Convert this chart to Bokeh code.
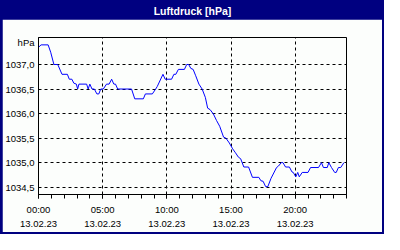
from bokeh.plotting import figure
from bokeh.layouts import column
from bokeh.models import Range1d, FixedTicker, CustomJSTickFormatter
from bokeh.core.properties import value
from bokeh.embed import file_html
from bokeh.resources import INLINE

# data: hours since 13.02.23 00:00, air pressure in hPa
hours = [0.0, 0.2, 0.75, 0.95, 1.2, 1.5, 1.83, 2.25, 2.4, 2.6, 2.75, 2.95, 3.05, 3.15, 3.75,
         3.87, 4.0, 4.17, 4.35, 4.55, 4.7, 4.85, 5.05, 5.3, 5.5, 5.7, 5.87, 6.0, 6.17, 7.25,
         7.5, 8.17, 8.33, 8.87, 9.13, 9.25, 9.7, 9.87, 10.37, 10.55, 10.7, 10.9, 11.37, 11.55,
         11.7, 11.87, 12.05, 12.25, 12.5, 12.75, 13.0, 13.18, 13.37, 13.63, 13.87, 14.12, 14.42,
         14.6, 14.87, 15.13, 15.35, 15.58, 15.75, 16.0, 16.37, 16.67, 17.17, 17.33, 17.5, 17.7,
         17.87, 18.12, 18.55, 18.7, 18.92, 19.05, 19.25, 19.55, 19.75, 19.85, 20.05, 20.2, 20.32,
         20.55, 21.0, 21.2, 21.82, 22.05, 22.2, 22.5, 22.62, 22.83, 23.08, 23.2, 23.37, 23.55, 23.8]
pressure = [1037.35, 1037.4, 1037.4, 1037.25, 1037.0, 1037.0, 1036.8, 1036.8, 1036.7, 1036.7,
            1036.62, 1036.6, 1036.5, 1036.6, 1036.6, 1036.5, 1036.6, 1036.5, 1036.5, 1036.4,
            1036.4, 1036.5, 1036.5, 1036.6, 1036.6, 1036.7, 1036.6, 1036.6, 1036.5, 1036.5,
            1036.3, 1036.3, 1036.4, 1036.4, 1036.5, 1036.55, 1036.8, 1036.7, 1036.7, 1036.8,
            1036.8, 1036.9, 1036.9, 1037.0, 1037.0, 1036.92, 1036.9, 1036.77, 1036.6, 1036.5,
            1036.33, 1036.11, 1036.08, 1035.99, 1035.86, 1035.74, 1035.52, 1035.5, 1035.4,
            1035.28, 1035.2, 1035.11, 1035.08, 1034.91, 1034.91, 1034.7, 1034.7, 1034.63,
            1034.62, 1034.51, 1034.51, 1034.68, 1034.9, 1034.93, 1035.0, 1035.0, 1034.91,
            1034.91, 1034.81, 1034.8, 1034.71, 1034.8, 1034.71, 1034.8, 1034.8, 1034.9, 1034.9,
            1035.0, 1034.9, 1034.9, 1035.0, 1034.9, 1034.8, 1034.8, 1034.9, 1034.9, 1035.0]
x_ticks = [0, 5, 10, 15, 20]
x_minor = list(range(0, 25))
y_ticks = [1034.5, 1035.0, 1035.5, 1036.0, 1036.5, 1037.0]
unit_tick = 1037.44          # where the unit label "hPa" sits on the value axis
date_label = "13.02.23"
title_text = "Luftdruck [hPa]"
unit_text = "hPa"

NAVY = "#000080"
BG = "#FCFEFC"
FONT = "Liberation Sans"

# title bar
t = figure(width=384, height=19, output_backend="svg", toolbar_location=None,
           x_range=Range1d(0, 1), y_range=Range1d(0, 1),
           x_axis_location=None, y_axis_location=None,
           min_border=0, background_fill_color=NAVY, border_fill_color=NAVY,
           outline_line_color=None)
t.grid.visible = False
t.text(x=[0.5], y=[0.45], text=[title_text], text_align="center", text_baseline="middle",
       text_font=value(FONT), text_font_style="bold", text_font_size="10.5px",
       text_color="white")

# main chart
p = figure(width=380, height=213, output_backend="svg", toolbar_location=None,
           x_range=Range1d(0, 24), y_range=Range1d(1034.35, 1037.55),
           min_border_left=36, min_border_right=36, min_border_top=18, min_border_bottom=34,
           background_fill_color=BG, border_fill_color=BG,
           outline_line_color="black", outline_line_width=1)
p.margin = (0, 2, 2, 2)

p.line(hours, pressure, line_color="#0000FF", line_width=1)

p.xaxis.ticker = FixedTicker(ticks=x_ticks, minor_ticks=x_minor)
p.xaxis.formatter = CustomJSTickFormatter(
    args=dict(d=date_label),
    code="return String(Math.round(tick)).padStart(2,'0') + ':00\\n' + d;")
p.yaxis.ticker = FixedTicker(ticks=y_ticks + [unit_tick])
p.yaxis.formatter = CustomJSTickFormatter(
    args=dict(u=unit_text, ut=unit_tick),
    code="if (Math.abs(tick - ut) < 1e-6) { return u; } return tick.toFixed(1).replace('.', ',');")

for ax in (p.xaxis[0], p.yaxis[0]):
    ax.axis_line_color = "black"
    ax.major_label_text_font = FONT
    ax.major_label_text_font_size = "9.5px"
    ax.major_label_text_color = "black"
    ax.major_tick_in = 0
    ax.minor_tick_in = 0
p.xaxis.major_tick_out = 4
p.xaxis.minor_tick_out = 4
p.xaxis.major_tick_line_color = "black"
p.xaxis.minor_tick_line_color = "black"
p.xaxis.major_label_standoff = 5
p.xaxis.major_label_text_line_height = 1.35
p.yaxis.major_tick_out = 0
p.yaxis.minor_tick_out = 0
p.yaxis.major_tick_line_color = None
p.yaxis.minor_tick_line_color = None
p.yaxis.major_label_standoff = 4

p.xgrid.grid_line_color = "black"
p.xgrid.grid_line_dash = "3 3"
p.ygrid.ticker = FixedTicker(ticks=y_ticks)
p.ygrid.grid_line_color = "black"
p.ygrid.grid_line_dash = "3 3"

layout = column(t, p, spacing=0, styles={"background-color": NAVY})

open("out.html", "w").write(file_html(layout, INLINE))
